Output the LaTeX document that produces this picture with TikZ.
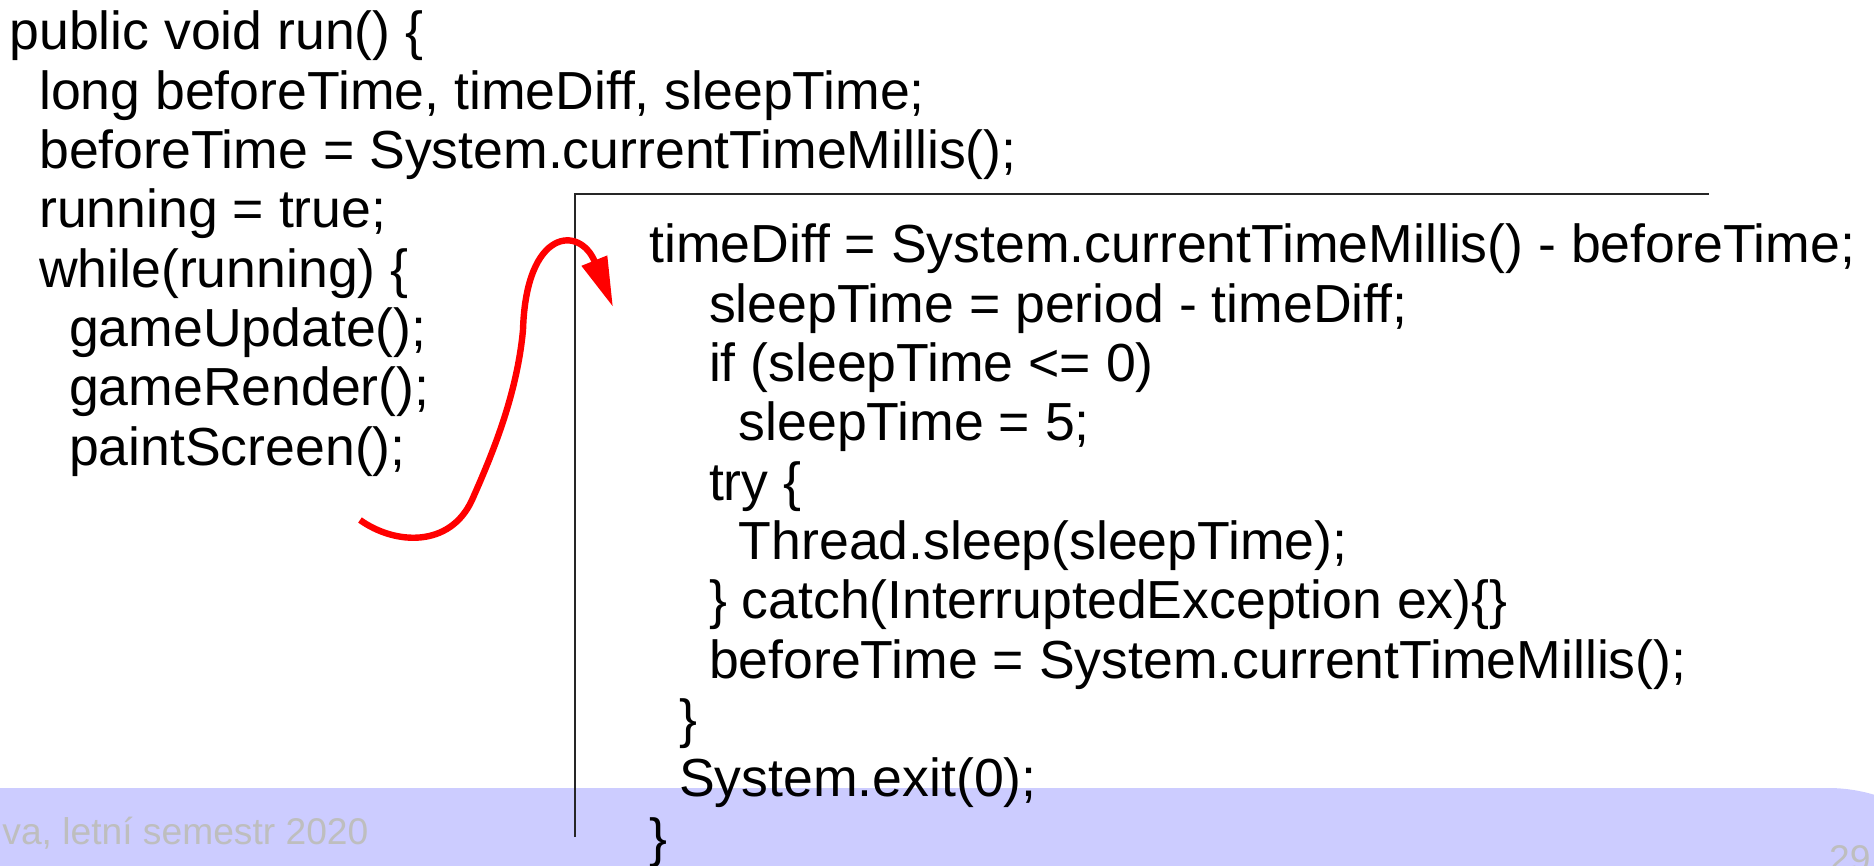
\documentclass[tikz,border=0pt]{standalone}
\usepackage{fontspec}
\setmainfont{Liberation Sans}
\usepackage{tikz}
\usetikzlibrary{arrows.meta}
\definecolor{bandblue}{RGB}{204,204,255}
\definecolor{footgray}{RGB}{190,190,190}

\begin{document}
\begin{tikzpicture}[x=0.5pt, y=-0.5pt,
    code/.style={anchor=base west, inner sep=0pt, font=\fontsize{26.8}{31}\selectfont},
    foot/.style={inner sep=0pt, text=footgray, font=\fontsize{18.6}{22}\selectfont},
    boxline/.style={black!85, line width=0.9pt},
    loop arrow/.style={red, line width=3.2pt, -{Triangle[length=25pt, width=13pt]}}]
    \def\lh{59.3}
    \def\ind{14.9}
    \def\lx{9}
    \def\rx{649}
    \def\ly{50}
    \def\ry{263}

    \useasboundingbox (0,0) rectangle (1874,866);
    \fill[bandblue, rounded corners=80pt] (-400,788) rectangle (1988,1200);
    \node[foot, anchor=base west] (course) at (2,844) {va, letní semestr 2020};
    \node[foot, anchor=base east] (page) at (1871,871) {29};

    \draw[boxline] (575,837) -- (575,194) -- (1709,194);

    \node[code] (run)     at (\lx, \ly) {public void run() \{};
    \node[code] (decl)    at (\lx+2*\ind, \ly+\lh) {long beforeTime, timeDiff, sleepTime;};
    \node[code] (init)    at (\lx+2*\ind, \ly+2*\lh) {beforeTime = System.currentTimeMillis();};
    \node[code] (flag)    at (\lx+2*\ind, \ly+3*\lh) {running = true;};
    \node[code] (while)   at (\lx+2*\ind, \ly+4*\lh) {while(running) \{};
    \node[code] (update)  at (\lx+4*\ind, \ly+5*\lh) {gameUpdate();};
    \node[code] (render)  at (\lx+4*\ind, \ly+6*\lh) {gameRender();};
    \node[code] (paint)   at (\lx+4*\ind, \ly+7*\lh) {paintScreen();};

    \node[code] (diff)    at (\rx, \ry) {timeDiff = System.currentTimeMillis() - beforeTime;};
    \node[code] (sleep)   at (\rx+4*\ind, \ry+\lh) {sleepTime = period - timeDiff;};
    \node[code] (test)    at (\rx+4*\ind, \ry+2*\lh) {if (sleepTime <= 0)};
    \node[code] (floor)   at (\rx+6*\ind, \ry+3*\lh) {sleepTime = 5;};
    \node[code] (try)     at (\rx+4*\ind, \ry+4*\lh) {try \{};
    \node[code] (nap)     at (\rx+6*\ind, \ry+5*\lh) {Thread.sleep(sleepTime);};
    \node[code] (catch)   at (\rx+4*\ind, \ry+6*\lh) {\} catch(InterruptedException ex)\{\}};
    \node[code] (reset)   at (\rx+4*\ind, \ry+7*\lh) {beforeTime = System.currentTimeMillis();};
    \node[code] (endloop) at (\rx+2*\ind, \ry+8*\lh) {\}};
    \node[code] (exit)    at (\rx+2*\ind, \ry+9*\lh) {System.exit(0);};
    \node[code] (endrun)  at (\rx, \ry+10*\lh) {\}};

    \coordinate (loopstart) at (360,520);
    \coordinate (looptip) at (613,307);
    \draw[loop arrow] (loopstart) .. controls (395,545) and (450,548) .. (472,500)
        .. controls (492,455) and (517,395) .. (523,330)
        .. controls (526,228) and (580,225) .. (looptip);
\end{tikzpicture}
\end{document}
